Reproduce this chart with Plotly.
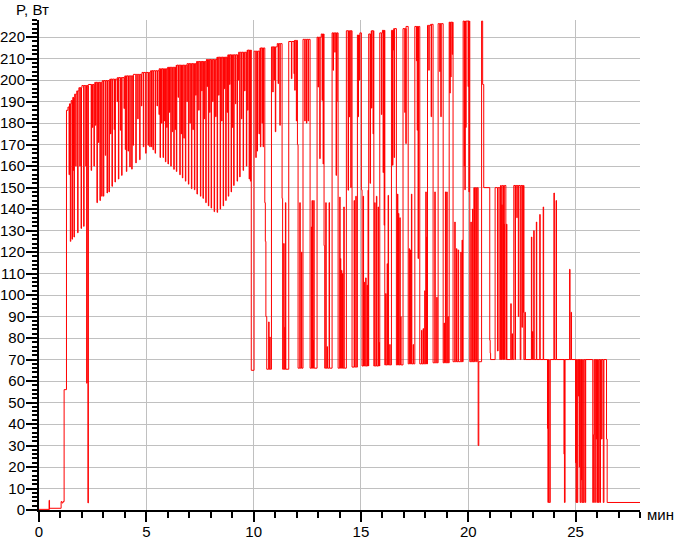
import plotly.graph_objects as go

# baseline steps of the power trace: time (min) -> power (W)
level_t = [0.00, 0.49, 1.03, 1.07, 1.12, 1.17, 1.28, 1.35, 1.42, 1.50, 1.58, 1.66, 1.76, 1.86,
           2.00, 2.30, 2.60, 2.95, 3.30, 3.65, 4.00, 4.40, 4.80, 5.20, 5.60, 6.00, 6.40, 6.90,
           7.35, 7.80, 8.30, 8.80, 9.30, 9.70,
           9.89, 10.02, 10.30, 10.52, 10.545, 10.57, 10.61, 10.83, 11.10, 11.325, 11.35,
           11.635, 11.90, 12.04, 12.07, 12.30, 12.63, 12.955, 13.15, 13.28, 13.31, 13.655,
           13.935, 14.32, 14.585, 14.835, 14.95, 15.02, 15.05, 15.36, 15.48, 15.60, 15.876,
           16.00, 16.11, 16.42, 16.53, 16.65, 16.96, 17.10, 17.20, 17.51, 17.74, 18.10, 18.25,
           18.36, 18.595, 18.83, 19.11, 19.29, 19.76, 20.07,
           20.26, 20.29, 20.33, 20.38, 20.42, 20.46, 20.49, 20.62, 20.67, 20.72,
           21.00, 21.02, 21.04, 21.25, 21.36, 21.39, 21.47, 21.50, 21.54, 21.58, 21.64, 21.68,
           21.75, 22.12, 22.18, 22.20, 22.42, 22.45, 22.59,
           23.71, 23.74, 23.77, 23.82, 24.48, 24.51, 25.02, 25.05, 25.07, 25.10, 25.21, 25.24,
           25.29, 25.33, 25.36, 25.40, 25.45, 25.47, 25.80, 25.83, 25.86, 25.89, 25.92, 25.99,
           26.02, 26.06, 26.09, 26.13, 26.16, 26.29, 26.32, 26.44, 26.47, 28.00]
level_p = [0.3, 0.8, 3.9, 3.3, 3.9, 56, 186, 187.5, 189, 190.5, 192, 193.5, 195, 196.5,
           197.5, 198, 199, 199.8, 200.5, 201.2, 202, 202.7, 203.6, 204.4, 205.3, 206, 207, 207.7,
           208.7, 209.6, 210.7, 211.8, 213, 214,
           65, 213.5, 215, 143, 125, 90, 65.5, 215.5, 217, 145, 65.5,
           218, 218.5, 170, 66, 219, 66, 220, 221.5, 123, 66, 222,
           66, 223, 66.5, 221, 222, 149, 67, 221.5, 223, 67, 222,
           223.2, 67.5, 223.2, 224, 67.5, 224, 225, 68, 225, 68, 225.5, 226,
           68.5, 226.3, 68.5, 227, 69, 227.5, 69,
           150, 69, 150, 69, 150, 30, 69, 227.5, 198, 150,
           79, 73, 70, 150, 74, 150, 70, 151, 70, 151, 70, 151,
           70, 151, 70, 151, 70, 151, 70,
           3.5, 70, 3.5, 70, 3.5, 70, 3.5, 70, 3.5, 70, 3.5, 70,
           3.5, 70, 3.5, 70, 3.5, 70, 3.5, 35, 70, 3.5, 70, 3.5,
           70, 3.5, 70, 3.5, 70, 3.5, 70, 33, 3.5, 3.5]

# short one-sample excursions away from the baseline
spike_t = [0.47,
           1.40, 1.46, 1.54, 1.59, 1.63, 1.71, 1.80, 1.90, 1.96, 2.08, 2.18, 2.22, 2.28, 2.43,
           2.49, 2.56, 2.63, 2.70, 2.77, 2.84, 2.92, 3.00, 3.09, 3.17, 3.26, 3.33, 3.40, 3.50,
           3.54, 3.64, 3.70, 3.79, 3.85, 3.96, 4.02, 4.07, 4.15, 4.23, 4.32, 4.38, 4.51, 4.60,
           4.69, 4.77, 4.86, 4.97, 5.08, 5.16, 5.24, 5.31, 5.41, 5.50, 5.59, 5.64, 5.71, 5.78,
           5.84, 5.89, 5.95, 6.01, 6.08, 6.14, 6.21, 6.28, 6.34, 6.40, 6.48, 6.56, 6.62, 6.68,
           6.75, 6.82, 6.89, 6.96, 7.03, 7.10, 7.17, 7.24, 7.30, 7.36, 7.44, 7.52, 7.58, 7.64,
           7.70, 7.77, 7.83, 7.89, 7.95, 8.02, 8.09, 8.16, 8.23, 8.30, 8.37, 8.44, 8.51, 8.58,
           8.64, 8.70, 8.76, 8.82, 8.88, 8.95, 9.01, 9.07, 9.15, 9.23, 9.29, 9.35, 9.43, 9.51,
           9.58, 9.66, 9.72, 9.79,
           9.85, 10.10, 10.16, 10.25, 10.315, 10.39, 10.44, 10.70, 10.75, 10.89, 10.95, 11.01,
           11.14, 11.22, 11.40, 11.45, 11.48, 11.76, 11.88, 11.915, 11.99, 12.15, 12.225, 12.38,
           12.46, 12.54, 12.69, 12.72, 12.76, 12.80, 13.00, 13.08, 13.19, 13.235, 13.36, 13.42,
           13.515, 13.70, 13.78, 13.84, 13.87, 14.01, 14.04, 14.09, 14.14, 14.20, 14.40, 14.46,
           14.525, 14.68, 14.76, 14.865, 14.93, 15.10, 15.15, 15.22, 15.285, 15.33, 15.425,
           15.49, 15.565, 15.64, 15.72, 15.80, 15.845, 15.95, 16.03, 16.08, 16.15, 16.22,
           16.265, 16.34, 16.47, 16.50, 16.545, 16.70, 16.745, 16.81, 16.85, 17.04, 17.09,
           17.245, 17.305, 17.35, 17.43, 17.585, 17.62, 17.66, 17.82, 17.895, 17.97, 18.02,
           18.06, 18.16, 18.27, 18.44, 18.53, 18.67, 18.72, 18.87, 18.935, 18.997, 19.05, 19.14,
           19.18, 19.25, 19.37, 19.45, 19.53, 19.65, 19.71, 19.81, 19.84, 19.88, 19.99, 20.03,
           20.12, 20.20,
           21.56, 21.66, 21.78, 21.98, 22.04, 22.26, 22.33, 22.50, 22.56, 22.64, 22.94, 22.99,
           23.05, 23.17, 23.33, 23.49, 23.69, 23.99, 24.09, 24.46, 24.72, 24.79, 25.00, 25.14,
           25.17, 25.27, 25.96, 26.21]
spike_p = [4.5,
           156, 125, 126, 158, 127, 160, 129, 160, 131, 132, 160, 59, 3.3, 158,
           178, 160, 179, 143, 171, 144, 146, 146, 165, 147.5, 148, 175, 150.6, 177,
           152.6, 190, 154, 176.7, 155.7, 186.8, 167.7, 157.5, 167, 159.6, 158.6, 169.7, 161.5, 182,
           163, 188, 169, 166, 169.7, 169, 169, 167.6, 166, 188, 184, 164, 180, 164,
           181, 162, 178, 161, 185, 160, 176, 158.5, 177, 157.5, 192, 156, 175, 154.5,
           173, 153, 190, 151.6, 180, 149.5, 177, 149, 193, 147, 186, 146, 195, 145,
           182, 143, 197, 141.5, 185, 140.5, 190, 138.8, 183, 138.5, 193, 140, 181, 141.5,
           196, 144, 185, 146, 198, 148, 178, 151, 189, 153, 200, 155, 182, 158,
           195, 160, 186, 154,
           153, 164, 167, 175, 169, 180, 169, 87.5, 80.5, 194.5, 200, 176,
           198.4, 179, 124, 85, 143, 200.7, 203, 195.3, 181, 143, 120, 181,
           180, 181, 131.7, 144, 79, 144, 196.8, 163.5, 190.6, 161, 143, 76,
           143, 204.6, 213, 155.7, 190, 145.6, 117, 111.5, 110, 141, 148.8, 182.9,
           150, 144, 146, 183, 200, 146, 106, 108, 104.6, 148.8, 152,
           187, 175, 143, 146, 141, 78, 184, 157, 132.5, 100.7, 114.6,
           146.4, 77, 160.4, 214, 164, 147, 138, 136, 90, 185, 170.5,
           121.6, 121, 147, 77, 209, 176.7, 117, 83.6, 84.4, 102, 148,
           127, 204.6, 183, 148, 99, 204, 183, 87, 148, 148, 90, 194,
           201.5, 212, 134, 121.6, 121, 120, 125.6, 160, 149, 178, 197, 148,
           134, 140,
           142, 133, 133, 96, 82, 136, 90, 85, 92, 92, 127, 83,
           130, 134, 137.5, 141, 38, 147.5, 144, 26, 112, 92, 22, 53,
           20, 14, 33, 33]

SAMPLE_MIN = 0.02

events = [(t, p, False) for t, p in zip(level_t, level_p)]
events += [(t, p, True) for t, p in zip(spike_t, spike_p)]
events.sort(key=lambda e: e[0])

x, y = [], []
cur = level_p[0]
for t, p, is_spike in events:
    x.append(t)
    y.append(p)
    if is_spike:
        x.append(t + SAMPLE_MIN)
        y.append(cur)
    else:
        cur = p

fig = go.Figure(go.Scatter(
    x=x, y=y,
    mode='lines',
    line=dict(color='#ff0000', width=1, shape='hv'),
    hoverinfo='skip',
    showlegend=False
))

font = dict(family='Liberation Sans, Arial, sans-serif', size=15, color='black')

fig.update_layout(
    width=675,
    height=539,
    margin=dict(l=39, r=35, t=20, b=29),
    plot_bgcolor='white',
    paper_bgcolor='white',
    font=font,
    xaxis=dict(
        range=[0, 28], tick0=0, dtick=5, automargin=False,
        ticks='outside', ticklen=10, tickwidth=2, tickcolor='black',
        ticklabelstandoff=-3,
        showline=True, linecolor='black', linewidth=2,
        showgrid=True, gridcolor='#c0c0c0', gridwidth=1, zeroline=False,
        minor=dict(dtick=1, ticks='outside', ticklen=6, tickwidth=2, tickcolor='black', showgrid=False),
        tickfont=font,
    ),
    yaxis=dict(
        range=[0, 228], tick0=0, dtick=10, automargin=False,
        ticks='outside', ticklen=11, tickwidth=2, tickcolor='black',
        ticklabelstandoff=-2,
        showline=True, linecolor='black', linewidth=2,
        showgrid=True, gridcolor='#c0c0c0', gridwidth=1, zeroline=False,
        minor=dict(dtick=2, ticks='outside', ticklen=5, tickwidth=2, tickcolor='black', showgrid=False),
        tickfont=font,
    ),
    annotations=[
        dict(text='P, Вт', xref='paper', yref='paper', x=-0.01, y=1,
             xanchor='center', yanchor='bottom', yshift=0, showarrow=False, font=font),
        dict(text='мин', xref='paper', yref='paper', x=1, y=0,
             xanchor='left', yanchor='middle', xshift=5, yshift=-4, showarrow=False, font=font),
    ],
)

# the page's default 8px body margin would shift the figure inside the window
fig.write_html("out.html", config={'displayModeBar': False},
               post_script="document.body.style.margin='0';")
